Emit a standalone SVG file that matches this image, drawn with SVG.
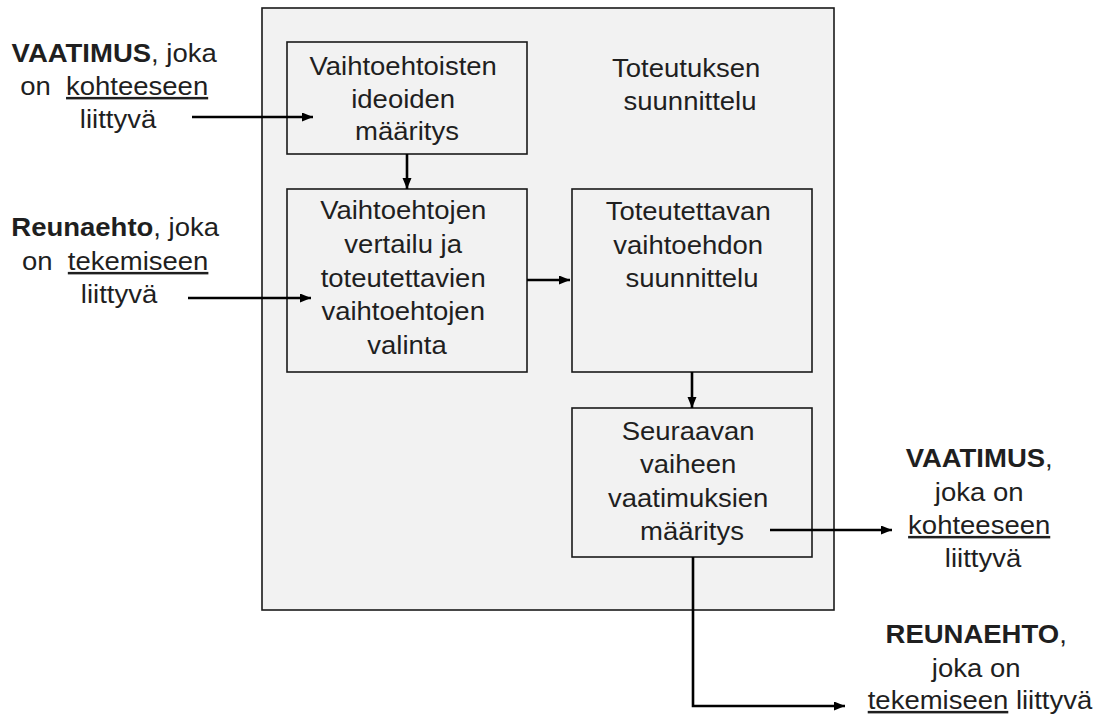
<svg xmlns="http://www.w3.org/2000/svg" width="1108" height="715" viewBox="0 0 1108 715">
  <style>
    .frame { fill: #f2f2f2; stroke: #1a1a1a; stroke-width: 1.6; }
    .box { fill: #f2f2f2; stroke: #1a1a1a; stroke-width: 1.6; }
    .lbl { font-family: "Liberation Sans", Arial, sans-serif; font-size: 25px; fill: #1f1f1f; text-anchor: middle; }
    .b { font-weight: bold; }
    .u { text-decoration: underline; }
    .conn { fill: none; stroke: #000; stroke-width: 2.6; marker-end: url(#arrow); }
  </style>
  <defs>
    <marker id="arrow" markerUnits="userSpaceOnUse" markerWidth="12" markerHeight="10" refX="11" refY="4.5" orient="auto">
      <path d="M0,0 L11,4.5 L0,9 z" fill="#000"/>
    </marker>
  </defs>

  <rect width="1108" height="715" fill="#ffffff"/>

  <!-- enclosing phase frame -->
  <g id="phase">
    <rect class="frame" x="262" y="8" width="572" height="602"/>
    <text class="lbl" transform="translate(690 0) scale(1.1 1)">
      <tspan x="0" y="77">Toteutuksen</tspan>
      <tspan x="0" y="110">suunnittelu</tspan>
    </text>
  </g>

  <g id="ideas">
    <rect class="box" x="287" y="42" width="240" height="112"/>
    <text class="lbl" transform="translate(407 0) scale(1.1 1)">
      <tspan x="0" y="75">Vaihtoehtoisten</tspan>
      <tspan x="0" y="108">ideoiden</tspan>
      <tspan x="0" y="140">määritys</tspan>
    </text>
  </g>

  <g id="compare">
    <rect class="box" x="287" y="189" width="240" height="183"/>
    <text class="lbl" transform="translate(407 0) scale(1.1 1)">
      <tspan x="0" y="219">Vaihtoehtojen</tspan>
      <tspan x="0" y="253">vertailu ja</tspan>
      <tspan x="0" y="287">toteutettavien</tspan>
      <tspan x="0" y="320">vaihtoehtojen</tspan>
      <tspan x="0" y="354">valinta</tspan>
    </text>
  </g>

  <g id="design">
    <rect class="box" x="572" y="189" width="240" height="183"/>
    <text class="lbl" transform="translate(692 0) scale(1.1 1)">
      <tspan x="0" y="220">Toteutettavan</tspan>
      <tspan x="0" y="254">vaihtoehdon</tspan>
      <tspan x="0" y="287">suunnittelu</tspan>
    </text>
  </g>

  <g id="next-requirements">
    <rect class="box" x="572" y="408" width="240" height="149"/>
    <text class="lbl" transform="translate(692 0) scale(1.1 1)">
      <tspan x="0" y="440">Seuraavan</tspan>
      <tspan x="0" y="473">vaiheen</tspan>
      <tspan x="0" y="507">vaatimuksien</tspan>
      <tspan x="0" y="540">määritys</tspan>
    </text>
  </g>

  <g id="input-requirement">
    <text class="lbl" transform="translate(118 0) scale(1.1 1)">
      <tspan x="0" y="62"><tspan class="b">VAATIMUS</tspan>, joka</tspan>
      <tspan x="0" y="95">on&#160; <tspan class="u">kohteeseen</tspan></tspan>
      <tspan x="0" y="128">liittyvä</tspan>
    </text>
  </g>

  <g id="input-constraint">
    <text class="lbl" transform="translate(119 0) scale(1.1 1)">
      <tspan x="0" y="236"><tspan class="b">Reunaehto</tspan>, joka</tspan>
      <tspan x="0" y="270">on&#160; <tspan class="u">tekemiseen</tspan></tspan>
      <tspan x="0" y="303">liittyvä</tspan>
    </text>
  </g>

  <g id="output-requirement">
    <text class="lbl" transform="translate(983 0) scale(1.1 1)">
      <tspan x="0" y="467"><tspan class="b">VAATIMUS</tspan>,</tspan>
      <tspan x="0" y="501">joka on</tspan>
      <tspan x="0" y="534" class="u">kohteeseen</tspan>
      <tspan x="0" y="567">liittyvä</tspan>
    </text>
  </g>

  <g id="output-constraint">
    <text class="lbl" transform="translate(980 0) scale(1.1 1)">
      <tspan x="0" y="643"><tspan class="b">REUNAEHTO</tspan>,</tspan>
      <tspan x="0" y="677">joka on</tspan>
      <tspan x="0" y="709"><tspan class="u">tekemiseen</tspan> liittyvä</tspan>
    </text>
  </g>

  <!-- connectors, drawn over the boxes -->
  <g id="connectors">
    <line class="conn" x1="192" y1="117" x2="313" y2="117"/>
    <line class="conn" x1="188" y1="298" x2="311" y2="298"/>
    <line class="conn" x1="407" y1="154" x2="407" y2="189"/>
    <line class="conn" x1="527" y1="280" x2="570" y2="280"/>
    <line class="conn" x1="692" y1="372" x2="692" y2="408"/>
    <line class="conn" x1="770" y1="530" x2="892" y2="530"/>
    <polyline class="conn" points="693,557 693,706 845,706"/>
  </g>
</svg>
